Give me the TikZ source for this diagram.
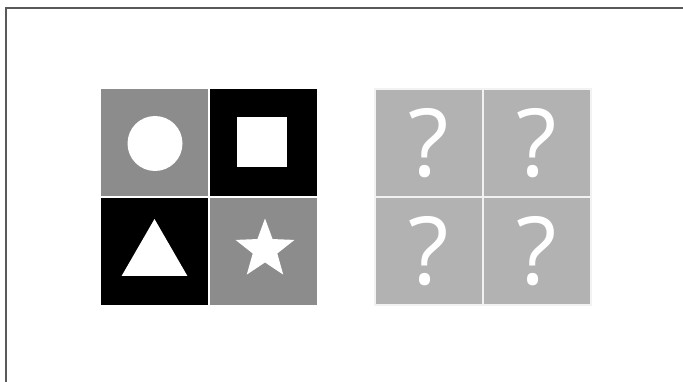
\documentclass[tikz,border=0pt]{standalone}
\usepackage{fontspec}
\newfontfamily\askfont{Open Sans}
\usetikzlibrary{positioning,shapes.geometric}

\begin{document}
\begin{tikzpicture}[
  x=1pt, y=-1pt, node distance=2pt,
  cell/.style={minimum size=107pt, inner sep=0pt, outer sep=0pt},
  graycell/.style={cell, fill=black!45},
  darkcell/.style={cell, fill=black},
  askcell/.style={cell, minimum size=106pt, fill=black!30, text=white, font=\askfont\fontsize{94}{94}\selectfont},
  glyph/.style={fill=white, inner sep=0pt, outer sep=0pt}
]
\useasboundingbox (0,0) rectangle (683,382);
\draw[line width=2.5pt, black!65] (683,8) -- (6,8) -- (6,382);

\node[graycell] (circ) at (154.5,142.5) {};
\node[darkcell, right=of circ] (sq) {};
\node[darkcell, below=of circ] (tri) {};
\node[graycell, right=of tri] (st) {};

\node[glyph, circle, minimum size=55pt] (circshape) at ([xshift=0.5pt,yshift=-1pt]circ.center) {};
\node[glyph, rectangle, minimum size=50pt] (sqshape) at ([xshift=-1.5pt]sq.center) {};
\node[glyph, regular polygon, regular polygon sides=3, minimum size=76pt, yshift=-5.5pt] (trishape) at (tri.center) {};
\node[glyph, star, star points=5, star point ratio=2.4, minimum size=62pt] (stshape) at ([xshift=1.5pt,yshift=2pt]st.center) {};

\fill[black!5] (374,88) rectangle (592,306);
\node[askcell] (ask1) at (429,143) {?};
\node[askcell, right=of ask1] (ask2) {?};
\node[askcell, below=of ask1] (ask3) {?};
\node[askcell, right=of ask3] (ask4) {?};

\end{tikzpicture}
\end{document}
